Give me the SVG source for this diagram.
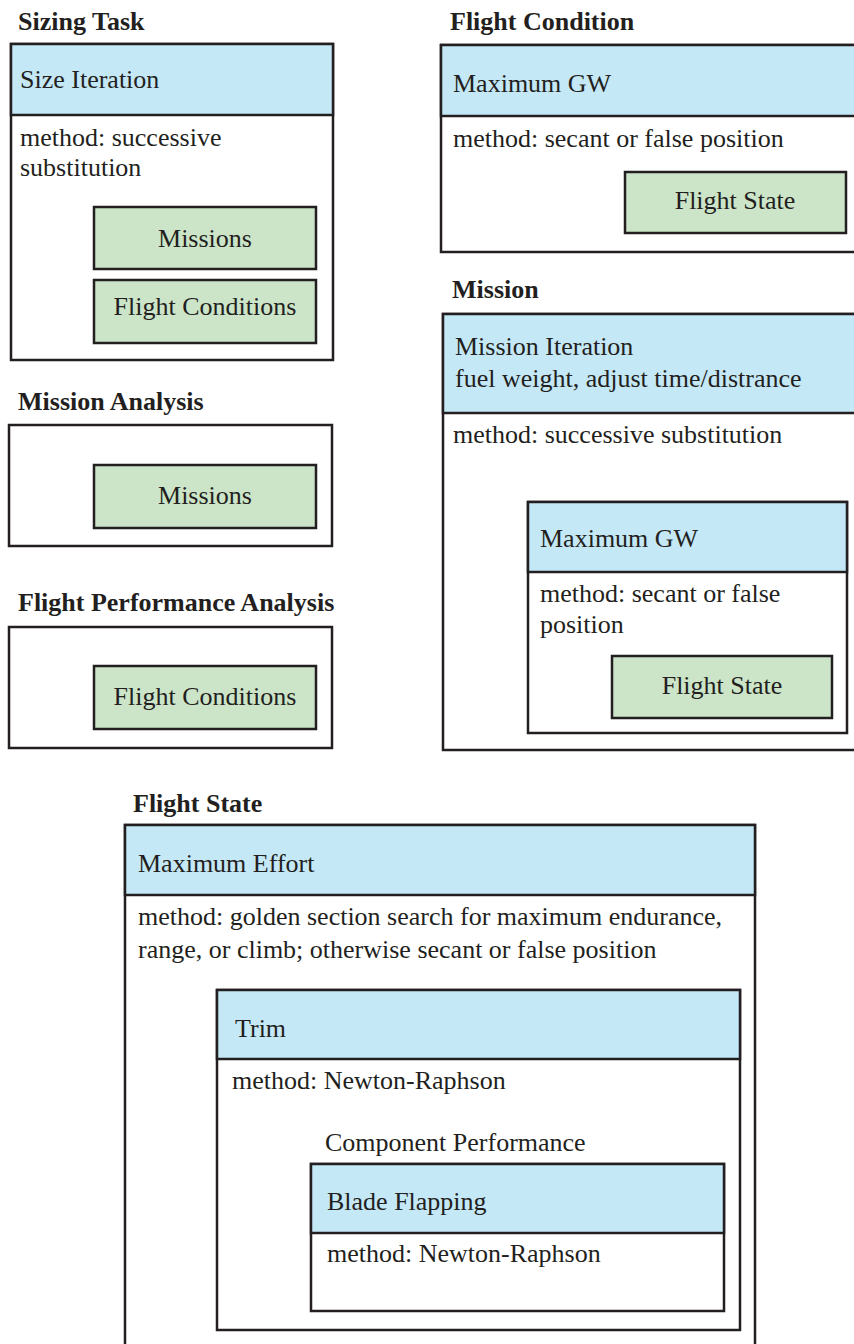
<svg xmlns="http://www.w3.org/2000/svg" width="854" height="1344" viewBox="0 0 854 1344">
<style>
text{font-size:26px;fill:#231f20}
.t{font-weight:bold}
.c{text-anchor:middle}
.box{fill:#fff;stroke:#231f20;stroke-width:2.5}
.hd{fill:#c5e8f7;stroke:#231f20;stroke-width:2.5}
.gr{fill:#cce5c9;stroke:#231f20;stroke-width:2.5}
</style>
<rect width="854" height="1344" fill="#fff"/>
<g id="connectors"/>
<g font-family="'Liberation Serif', 'Times New Roman', 'DejaVu Serif', serif">
<g id="sizing-task">
<text class="t" x="18" y="30">Sizing Task</text>
<rect class="box" x="11" y="44" width="322" height="316"/>
<rect class="hd" x="11" y="44" width="322" height="71"/>
<text x="20" y="88">Size Iteration</text>
<text x="20" y="146">method: successive</text>
<text x="20" y="176">substitution</text>
<g id="sizing-missions"><rect class="gr" x="94" y="207" width="222" height="62"/><text class="c" x="205" y="247">Missions</text></g>
<g id="sizing-flight-conditions"><rect class="gr" x="94" y="280" width="222" height="63"/><text class="c" x="205" y="315">Flight Conditions</text></g>
</g>

<g id="mission-analysis">
<text class="t" x="18" y="410">Mission Analysis</text>
<rect class="box" x="9" y="425" width="323" height="121"/>
<g id="ma-missions"><rect class="gr" x="94" y="465" width="222" height="63"/><text class="c" x="205" y="504">Missions</text></g>
</g>

<g id="flight-performance-analysis">
<text class="t" x="18" y="611">Flight Performance Analysis</text>
<rect class="box" x="9" y="627" width="323" height="121"/>
<g id="fpa-flight-conditions"><rect class="gr" x="94" y="666" width="222" height="63"/><text class="c" x="205" y="705">Flight Conditions</text></g>
</g>

<g id="flight-condition">
<text class="t" x="450" y="30">Flight Condition</text>
<rect class="box" x="441" y="45" width="430" height="207"/>
<rect class="hd" x="441" y="45" width="430" height="71"/>
<text x="453" y="92">Maximum GW</text>
<text x="453" y="147">method: secant or false position</text>
<g id="fc-flight-state"><rect class="gr" x="625" y="172" width="221" height="61"/><text class="c" x="735" y="209">Flight State</text></g>
</g>

<g id="mission">
<text class="t" x="452" y="298">Mission</text>
<rect class="box" x="443" y="314" width="430" height="436"/>
<rect class="hd" x="443" y="314" width="430" height="99"/>
<text x="455" y="355">Mission Iteration</text>
<text x="455" y="387">fuel weight, adjust time/distrance</text>
<text x="453" y="443">method: successive substitution</text>
<g id="mission-maximum-gw">
<rect class="box" x="528" y="502" width="319" height="231"/>
<rect class="hd" x="528" y="502" width="319" height="70"/>
<text x="540" y="547">Maximum GW</text>
<text x="540" y="602">method: secant or false</text>
<text x="540" y="633">position</text>
<g id="mission-flight-state"><rect class="gr" x="612" y="656" width="220" height="62"/><text class="c" x="722" y="694">Flight State</text></g>
</g>
</g>

<g id="flight-state">
<text class="t" x="133" y="812">Flight State</text>
<rect class="box" x="125" y="825" width="630" height="540"/>
<rect class="hd" x="125" y="825" width="630" height="70"/>
<text x="138" y="872">Maximum Effort</text>
<text x="138" y="925">method: golden section search for maximum endurance,</text>
<text x="138" y="958">range, or climb; otherwise secant or false position</text>
<g id="trim">
<rect class="box" x="217" y="990" width="523" height="340"/>
<rect class="hd" x="217" y="990" width="523" height="69"/>
<text x="235" y="1037">Trim</text>
<text x="232" y="1089">method: Newton-Raphson</text>
<text x="325" y="1151">Component Performance</text>
<g id="blade-flapping">
<rect class="box" x="311" y="1164" width="413" height="147"/>
<rect class="hd" x="311" y="1164" width="413" height="69"/>
<text x="327" y="1210">Blade Flapping</text>
<text x="327" y="1262">method: Newton-Raphson</text>
</g>
</g>
</g>
</g>
</svg>
